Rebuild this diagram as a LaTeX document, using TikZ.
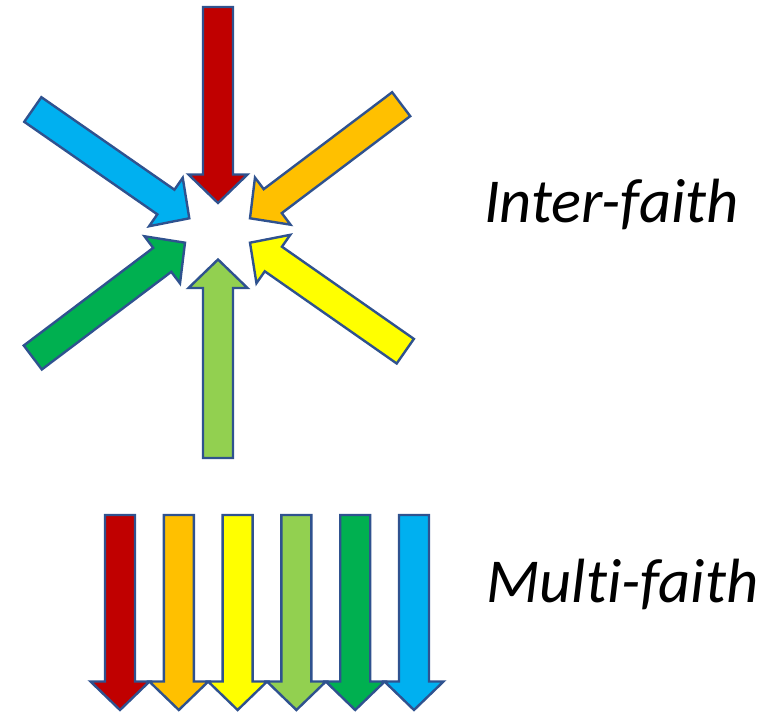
\documentclass[tikz,border=0pt]{standalone}
\usepackage{fontspec}
\setmainfont[Ligatures=NoCommon]{Carlito}
\definecolor{outl}{HTML}{2F528F}
\definecolor{cred}{HTML}{C00000}
\definecolor{corange}{HTML}{FFC000}
\definecolor{cyellow}{HTML}{FFFF00}
\definecolor{clgreen}{HTML}{92D050}
\definecolor{cgreen}{HTML}{00B050}
\definecolor{cblue}{HTML}{00B0F0}
\tikzset{fatarrow/.style={draw=outl, line width=2.4pt, line join=miter}}
% #1 colour, (#2,#3) tip, (#4,#5) tail centre
\newcommand{\fatarrowdraw}[5]{%
  \pgfmathsetmacro\faang{atan2((#3)-(#5),(#2)-(#4))}%
  \pgfmathsetmacro\falen{veclen((#2)-(#4),(#3)-(#5))}%
  \draw[fatarrow, fill=#1, shift={(#2,#3)}, rotate=\faang]
    (0,0) -- (-28.5,29.5) -- (-28.5,15) -- (-\falen,15) -- (-\falen,-15)
    -- (-28.5,-15) -- (-28.5,-29.5) -- cycle;}
\begin{document}
\begin{tikzpicture}[x=1pt,y=1pt]
\useasboundingbox (0,0) rectangle (782,712);
% star of arrows
\fatarrowdraw{cred}{218}{509}{218}{705}
\fatarrowdraw{clgreen}{218}{452.5}{218}{254}
\fatarrowdraw{cblue}{189.3}{493.7}{32.8}{602.5}
\fatarrowdraw{corange}{250}{493.7}{401.2}{607.8}
\fatarrowdraw{cyellow}{250}{469.3}{405.3}{360.8}
\fatarrowdraw{cgreen}{185}{469.3}{32.8}{354.5}
% row of arrows
\foreach \c [count=\i from 0] in {cred,corange,cyellow,clgreen,cgreen,cblue}{
  \pgfmathsetmacro\xx{120+58.8*\i}
  \fatarrowdraw{\c}{\xx}{2}{\xx}{197}
}
\node[anchor=base west, inner sep=0pt, font=\fontsize{62.5}{70}\selectfont\itshape] (inter) at (484,489) {Inter-faith};
\node[anchor=base west, inner sep=0pt, font=\fontsize{62.5}{70}\selectfont\itshape] (multi) at (486,109) {Multi-faith};
\end{tikzpicture}
\end{document}
